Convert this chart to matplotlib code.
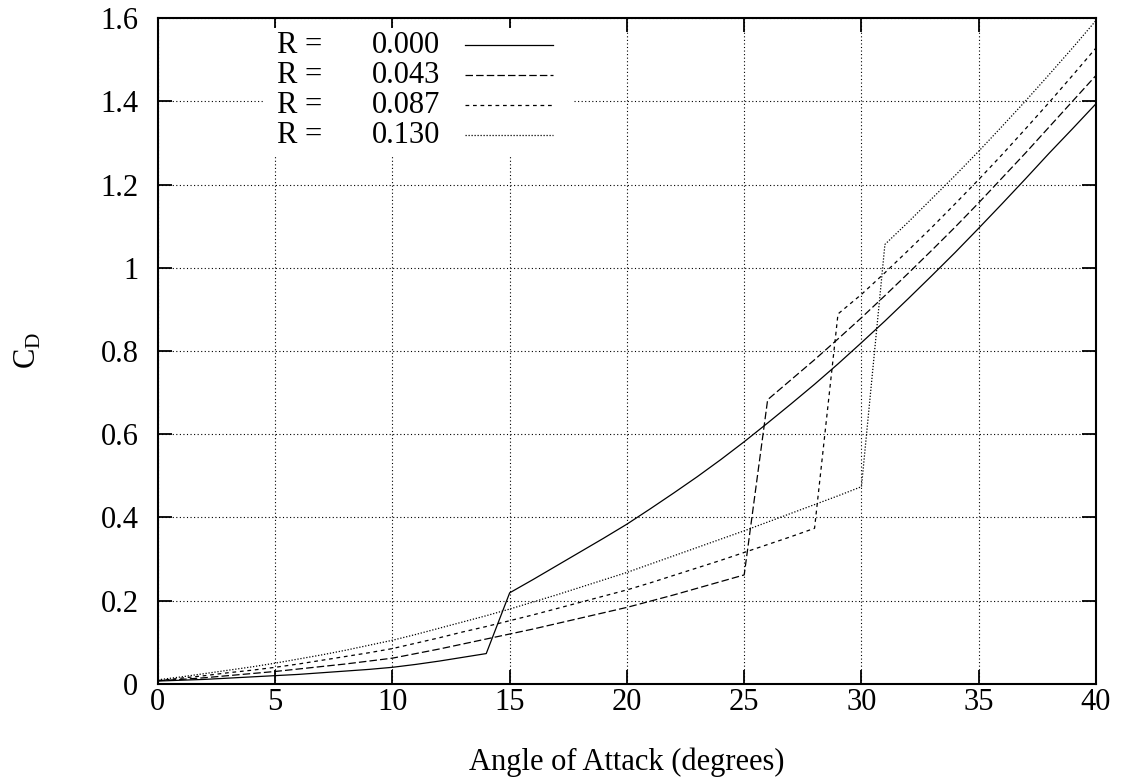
#!/usr/bin/env python

import numpy as np
import matplotlib
matplotlib.use("Agg")
import matplotlib.pyplot as plt
from matplotlib.patches import Rectangle
from matplotlib.ticker import FormatStrFormatter

plt.rcParams['font.family'] = ['Liberation Serif', 'DejaVu Serif']
plt.rcParams['mathtext.fontset'] = 'custom'
plt.rcParams['mathtext.rm'] = 'Liberation Serif'

# angle of attack (degrees), one sample per degree
alpha = list(range(0, 41))

# drag coefficient for each R
cd_r000 = [0.007, 0.009, 0.011, 0.014, 0.017, 0.020, 0.023, 0.027, 0.031, 0.035,
           0.040, 0.047, 0.055, 0.064, 0.073, 0.219, 0.251, 0.284, 0.317, 0.350,
           0.384, 0.421, 0.459, 0.498, 0.539, 0.582, 0.627, 0.673, 0.720, 0.769,
           0.820, 0.872, 0.926, 0.981, 1.037, 1.095, 1.154, 1.214, 1.275, 1.334,
           1.394]
cd_r043 = [0.008, 0.011, 0.015, 0.020, 0.025, 0.030, 0.036, 0.042, 0.048, 0.055,
           0.062, 0.073, 0.084, 0.096, 0.108, 0.120, 0.132, 0.145, 0.158, 0.171,
           0.184, 0.199, 0.214, 0.230, 0.246, 0.262, 0.683, 0.731, 0.779, 0.829,
           0.880, 0.933, 0.987, 1.042, 1.098, 1.156, 1.216, 1.276, 1.338, 1.400,
           1.462]
cd_r087 = [0.008, 0.014, 0.020, 0.027, 0.033, 0.040, 0.048, 0.057, 0.066, 0.075,
           0.085, 0.098, 0.111, 0.125, 0.138, 0.152, 0.166, 0.181, 0.196, 0.211,
           0.226, 0.243, 0.261, 0.279, 0.297, 0.316, 0.335, 0.354, 0.374, 0.889,
           0.936, 0.988, 1.042, 1.097, 1.154, 1.212, 1.272, 1.334, 1.397, 1.462,
           1.528]
cd_r130 = [0.010, 0.017, 0.025, 0.033, 0.041, 0.050, 0.060, 0.070, 0.081, 0.093,
           0.105, 0.119, 0.134, 0.149, 0.164, 0.180, 0.197, 0.214, 0.232, 0.250,
           0.268, 0.288, 0.308, 0.328, 0.348, 0.368, 0.389, 0.410, 0.431, 0.452,
           0.474, 1.056, 1.110, 1.166, 1.222, 1.280, 1.340, 1.401, 1.464, 1.528,
           1.594]

r_labels = ['0.000', '0.043', '0.087', '0.130']
series = [cd_r000, cd_r043, cd_r087, cd_r130]
dash_styles = [None, (6, 2.5), (3, 3), (1, 1.4)]

FS = 22

fig = plt.figure(figsize=(11.28, 7.84), dpi=100)
ax = fig.add_axes([0.140, 0.1276, 0.8316, 0.8494])

for cd, ds in zip(series, dash_styles):
    ln, = ax.plot(alpha, cd, color='black', lw=0.9, zorder=3)
    if ds is not None:
        ln.set_dashes(ds)

ax.set_xlim(0, 40)
ax.set_ylim(0, 1.6)
ax.set_xticks(np.arange(0, 41, 5))
ax.set_yticks(np.arange(0, 1.61, 0.2))
ax.yaxis.set_major_formatter(FormatStrFormatter('%g'))

ax.set_axisbelow(True)
ax.grid(True, color='black', lw=0.8, linestyle=(0, (1, 2.2)))
ax.tick_params(direction='in', length=10, width=1.3, top=True, right=True,
               labelsize=FS)
ax.tick_params(axis='y', pad=14)
ax.tick_params(axis='x', pad=3)
for sp in ax.spines.values():
    sp.set_linewidth(1.5)

# white key box hiding the grid behind the key
ax.add_patch(Rectangle((0.114, 0.795), 0.33, 0.19, transform=ax.transAxes,
                       facecolor='white', edgecolor='none', zorder=1))

row_y = [0.959, 0.914, 0.869, 0.824]
for ds, lab, y in zip(dash_styles, r_labels, row_y):
    ax.text(0.127, y, 'R =', transform=ax.transAxes, fontsize=FS,
            va='center', ha='left', zorder=4)
    ax.text(0.301, y, lab, transform=ax.transAxes, fontsize=FS,
            va='center', ha='right', zorder=4)
    seg, = ax.plot([0.327, 0.421], [y, y], transform=ax.transAxes,
                   color='black', lw=0.9, zorder=4)
    if ds is not None:
        seg.set_dashes(ds)

ax.set_xlabel('Angle of Attack (degrees)', fontsize=FS, labelpad=22)
fig.text(0.0248, 0.5536, r'$\mathrm{C}_\mathrm{D}$', fontsize=FS,
         rotation=90, ha='center', va='center')

plt.savefig("out.png", dpi=100)
